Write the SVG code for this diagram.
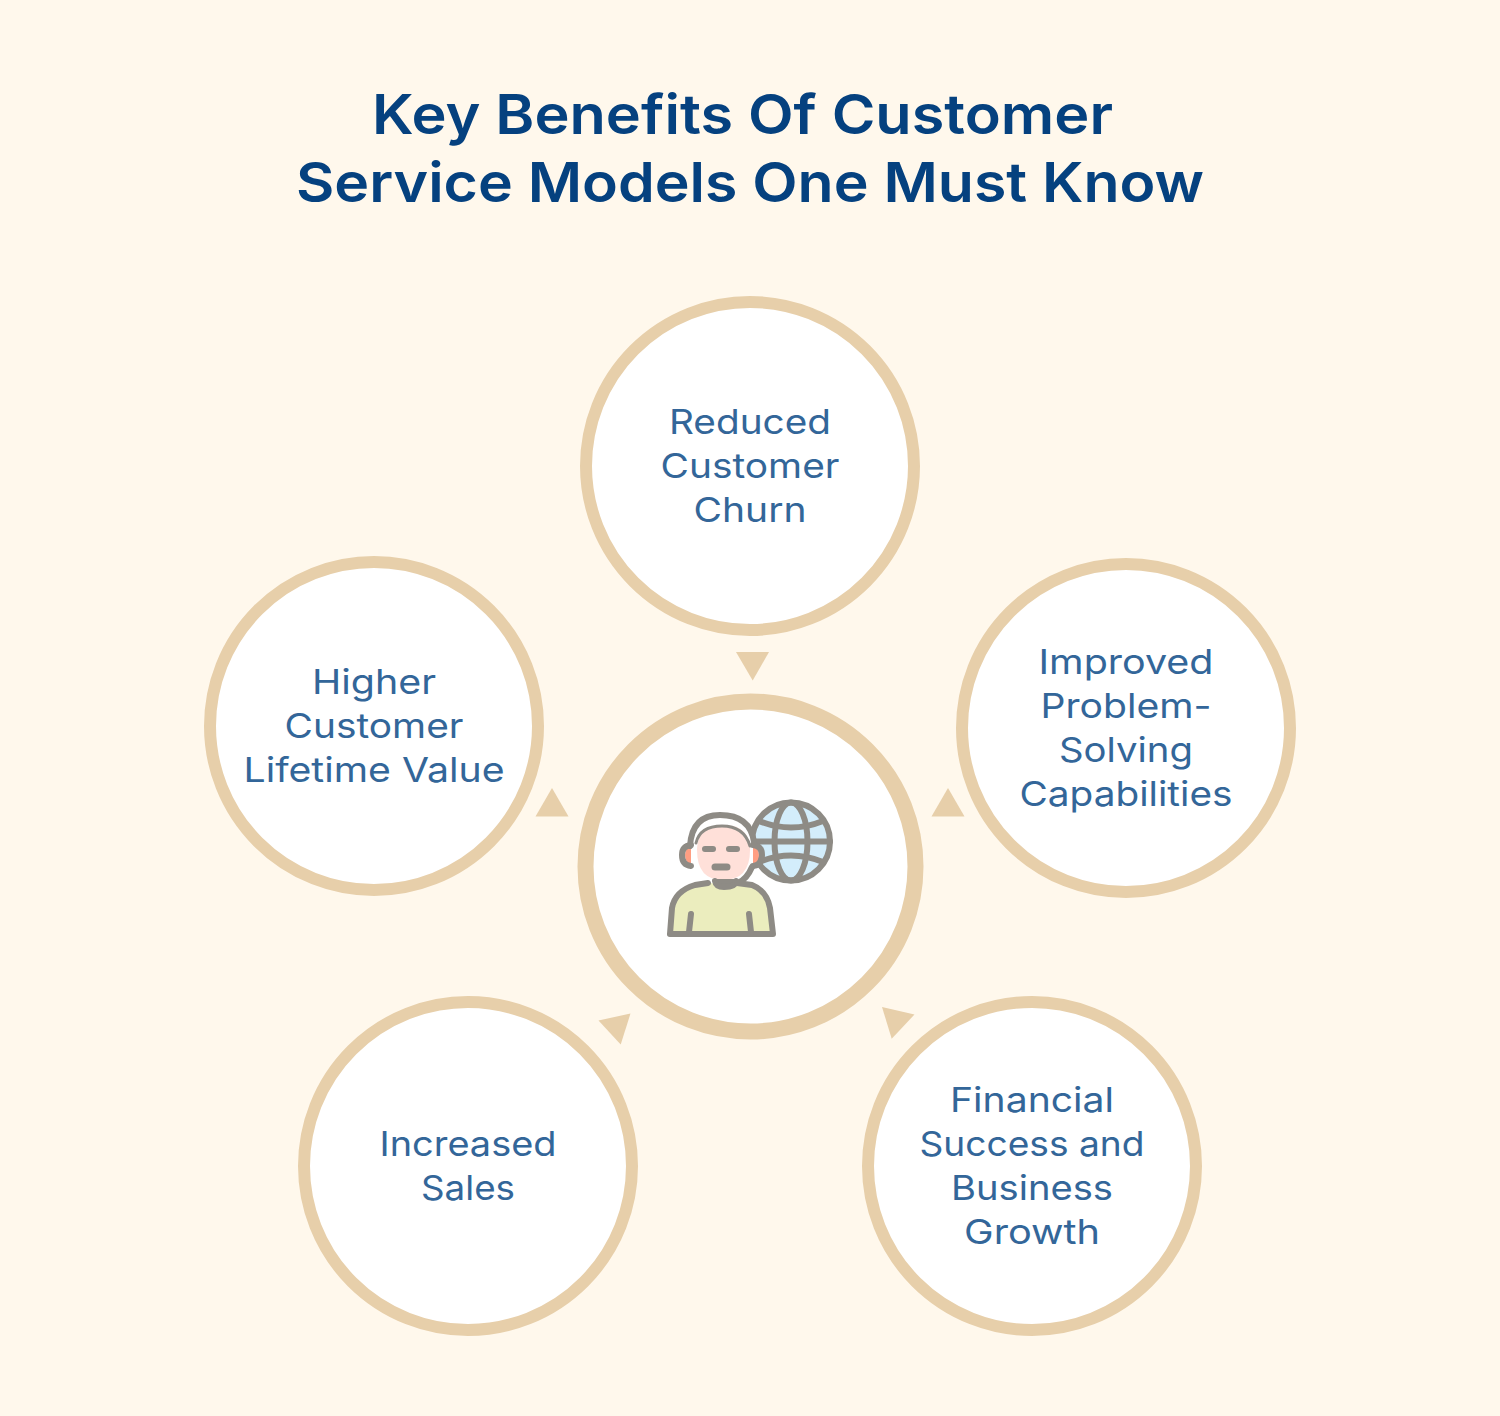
<svg xmlns="http://www.w3.org/2000/svg" width="1500" height="1416" viewBox="0 0 1500 1416">
<style>
.c{fill:#fff;stroke:#e7cfaa;stroke-width:12}
.a{fill:#e7cfaa}
.t{font-family:"Inter","Noto Sans","Liberation Sans",sans-serif;font-size:34px;fill:#336699;text-anchor:middle;font-weight:400}
.h{font-family:"Inter","Noto Sans","Liberation Sans",sans-serif;font-size:55px;font-weight:600;fill:#05417f;text-anchor:middle}
.i{stroke:#8e8b85;stroke-width:6;stroke-linecap:round;stroke-linejoin:round;fill:none}
</style>
<rect width="1500" height="1416" fill="#fff8ec"/>
<g id="title">
<text class="h" x="742.5" y="134" textLength="741" lengthAdjust="spacingAndGlyphs">Key Benefits Of Customer</text>
<text class="h" x="750" y="202" textLength="908" lengthAdjust="spacingAndGlyphs">Service Models One Must Know</text>
</g>
<g id="connectors">
<polygon class="a" points="736,652 769,652 752.7,680.500"/>
<polygon class="a" points="535.500,816.500 568.500,816.500 552,788"/>
<polygon class="a" points="931.500,816.500 964.500,816.500 948,788"/>
<polygon class="a" points="598.500,1020.500 630.500,1013.500 620.700,1044.500"/>
<polygon class="a" points="882,1007 914.500,1014.500 891.700,1038.700"/>
</g>
<g id="node-top">
<circle class="c" cx="750" cy="466" r="164"/>
<text class="t" x="750" y="434" textLength="162" lengthAdjust="spacingAndGlyphs">Reduced</text>
<text class="t" x="750" y="478" textLength="179" lengthAdjust="spacingAndGlyphs">Customer</text>
<text class="t" x="750" y="522" textLength="113" lengthAdjust="spacingAndGlyphs">Churn</text>
</g>
<g id="node-right">
<circle class="c" cx="1126" cy="728" r="164"/>
<text class="t" x="1126" y="674" textLength="175" lengthAdjust="spacingAndGlyphs">Improved</text>
<text class="t" x="1126" y="718" textLength="171" lengthAdjust="spacingAndGlyphs">Problem-</text>
<text class="t" x="1126" y="762" textLength="134" lengthAdjust="spacingAndGlyphs">Solving</text>
<text class="t" x="1126" y="806" textLength="213" lengthAdjust="spacingAndGlyphs">Capabilities</text>
</g>
<g id="node-bottom-right">
<circle class="c" cx="1032" cy="1166" r="164"/>
<text class="t" x="1032" y="1112" textLength="164" lengthAdjust="spacingAndGlyphs">Financial</text>
<text class="t" x="1032" y="1156" textLength="225" lengthAdjust="spacingAndGlyphs">Success and</text>
<text class="t" x="1032" y="1200" textLength="162" lengthAdjust="spacingAndGlyphs">Business</text>
<text class="t" x="1032" y="1244" textLength="136" lengthAdjust="spacingAndGlyphs">Growth</text>
</g>
<g id="node-bottom-left">
<circle class="c" cx="468" cy="1166" r="164"/>
<text class="t" x="468" y="1156" textLength="177" lengthAdjust="spacingAndGlyphs">Increased</text>
<text class="t" x="468" y="1200" textLength="94" lengthAdjust="spacingAndGlyphs">Sales</text>
</g>
<g id="node-left">
<circle class="c" cx="374" cy="726" r="164"/>
<text class="t" x="374" y="694" textLength="124" lengthAdjust="spacingAndGlyphs">Higher</text>
<text class="t" x="374" y="738" textLength="179" lengthAdjust="spacingAndGlyphs">Customer</text>
<text class="t" x="374" y="782" textLength="261" lengthAdjust="spacingAndGlyphs">Lifetime Value</text>
</g>
<g id="node-center">
<circle cx="750.500" cy="866.500" r="165" fill="#fff" stroke="#e7cfaa" stroke-width="16"/>
<g id="icon">
<circle cx="791" cy="841.500" r="39" fill="#d3edfb"/>
<g class="i">
<circle cx="791" cy="841.500" r="39"/>
<ellipse cx="791" cy="841.500" rx="16.500" ry="39"/>
<path d="M759 821Q791 834 823 821M752 841.500H830M759 862Q791 849 823 862"/>
</g>
<circle cx="721" cy="850" r="35" fill="#fff"/>
<path d="M688 848Q688 815 720 815Q750 815 755 848V870H688Z" fill="#fff"/>
<path d="M697 850Q697 825 723 825Q750 825 750 850Q750 880 723 880Q697 880 697 850Z" fill="#ffe0d9"/>
<path d="M691 846Q685 849 685 855Q685 862 691 865ZM753 846Q759 849 759 855Q759 862 753 865Z" fill="#ff9e82"/>
<path d="M670 934L672 908Q675 891 695 885L708 882Q722 888 736 882L752 885Q767 891 770 908L773 934Z" fill="#ebedbe"/>
<path d="M693 846Q696 824 722 824Q746 824 750 846" fill="none" stroke="#fff" stroke-width="0"/>
<g class="i">
<path d="M691 866Q682 865 682 855Q682 846 691 845M753 845Q762 846 762 855Q762 865 753 866"/>
<path d="M690 846Q692 815 720 815Q750 815 754 842"/>
<path d="M696 843Q700 826 722 826Q744 826 750 846" stroke-width="3"/>
<path d="M752 867Q747 879 738 883"/>
<path d="M717 882H735"/>
<path d="M715 881Q716 887 724 887Q735 887 736 881"/>
<path d="M708 883L695 885Q675 891 672 908L670 934H773L770 908Q767 891 752 885L737 883"/>
<path d="M691 914L689 932M749 914L751 932"/>
<path d="M705 849H713M729 849H737"/>
</g>
<path d="M715 867H727" stroke="#8e8b85" stroke-width="7" stroke-linecap="round" fill="none"/>
</g>
</g>
</svg>
